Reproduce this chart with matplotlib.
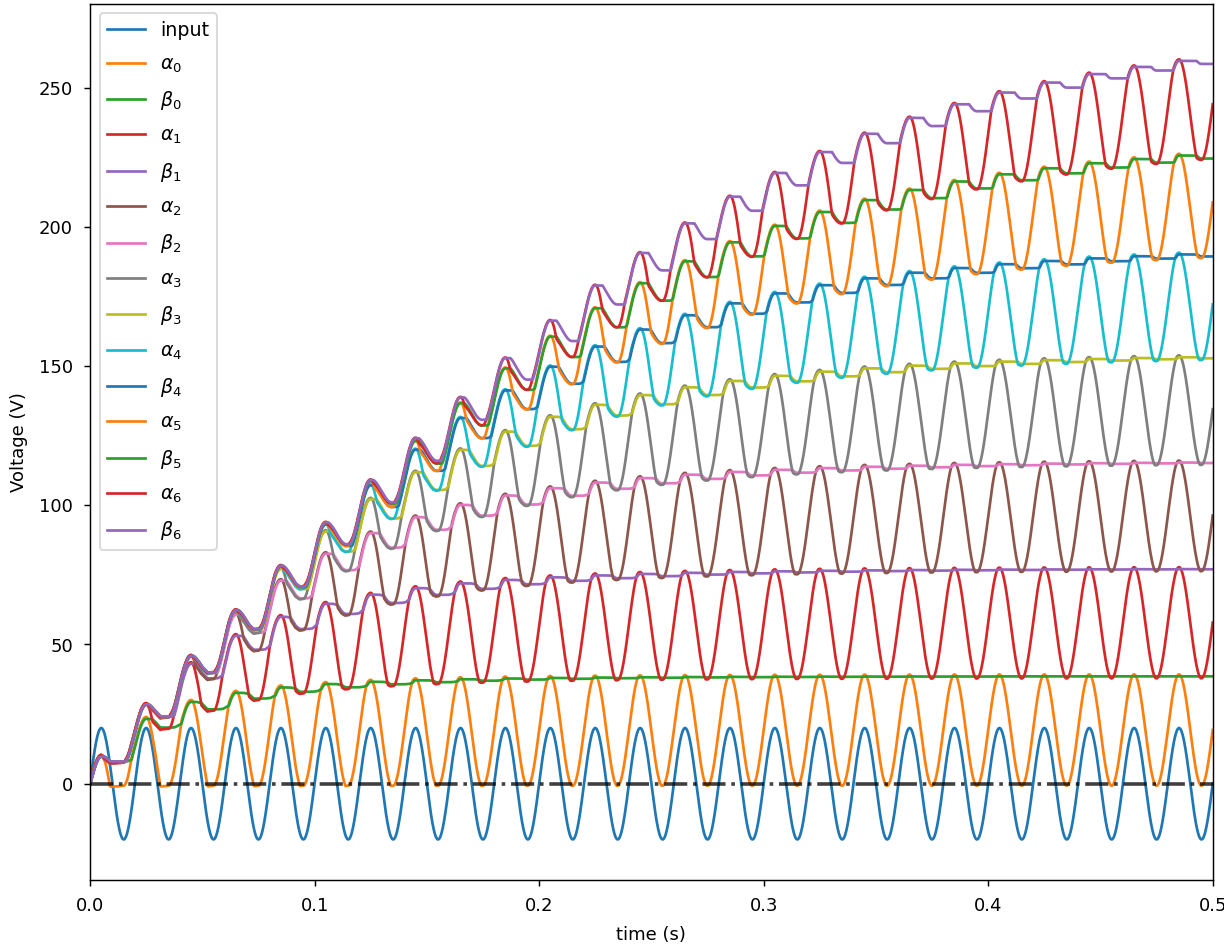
import numpy as np
import matplotlib.pyplot as plt

# source / ladder parameters (7-stage Cockcroft-Walton multiplier)
amplitude = 20.0        # V, peak input
frequency = 50.0        # Hz
t_end = 0.5             # s
dt = 2e-5               # s
cap_alpha = [10e-6, 2e-6, 4e-7, 8e-8, 1.6e-8, 3.2e-9, 6.4e-10]       # F, AC column
cap_beta = [10e-6, 1.4e-6, 2.8e-7, 5.6e-8, 1.12e-8, 2.24e-9, 4.48e-10]  # F, DC column
diode_res = [5, 25, 125, 625, 3125, 15625, 78125]                      # ohm, per stage
diode_drop = 0.7        # V

labels = ['input',
          r'$\alpha_0$', r'$\beta_0$', r'$\alpha_1$', r'$\beta_1$',
          r'$\alpha_2$', r'$\beta_2$', r'$\alpha_3$', r'$\beta_3$',
          r'$\alpha_4$', r'$\beta_4$', r'$\alpha_5$', r'$\beta_5$',
          r'$\alpha_6$', r'$\beta_6$']

# ---- transient simulation (backward euler, piecewise linear diodes) ----
n_st = len(cap_alpha)
N = 2 * n_st
GND, VIN = N, N + 1
Cm = np.zeros((N, N))
bsrc = np.zeros(N)


def stamp_cap(p, q, c):
    for a, b in ((p, q), (q, p)):
        if a < N:
            Cm[a, a] += c
            if b < N:
                Cm[a, b] -= c
            elif b == VIN:
                bsrc[a] += c


for k in range(n_st):
    stamp_cap(VIN if k == 0 else 2 * (k - 1), 2 * k, cap_alpha[k])
    stamp_cap(GND if k == 0 else 2 * k - 1, 2 * k + 1, cap_beta[k])

diodes = []
gs = []
for k in range(n_st):
    diodes.append((GND if k == 0 else 2 * k - 1, 2 * k))
    diodes.append((2 * k, 2 * k + 1))
    gs += [1.0 / diode_res[k], 1.0 / diode_res[k]]
anode = np.array([d[0] for d in diodes])
cathode = np.array([d[1] for d in diodes])

t = np.arange(0, t_end + dt / 2, dt)
vin = amplitude * np.sin(2 * np.pi * frequency * t)
Cdt = Cm / dt
cache = {}


def system(active):
    key = active.tobytes()
    if key not in cache:
        A = Cdt.copy()
        r = np.zeros(N)
        for (an, ca), on, g in zip(diodes, active, gs):
            if not on:
                continue
            for p, q, s in ((an, ca, 1.0), (ca, an, -1.0)):
                if p < N:
                    A[p, p] += g
                    if q < N:
                        A[p, q] -= g
                    r[p] += s * g * diode_drop
        cache[key] = (np.linalg.inv(A), r)
    return cache[key]


x = np.zeros(N)
out = np.zeros((len(t), N))
active = np.zeros(len(diodes), bool)
for i in range(1, len(t)):
    base = Cdt @ x + bsrc * (vin[i] - vin[i - 1]) / dt
    for it in range(30):
        Ainv, r = system(active)
        xn = Ainv @ (base + r)
        xe = np.append(xn, 0.0)
        vd = xe[anode] - xe[cathode]
        new = np.where(active, vd > diode_drop - 1e-9, vd > diode_drop)
        if np.array_equal(new, active):
            break
        active = new
    x = xn
    out[i] = x

# ---- plot ----
fig, ax = plt.subplots(figsize=(9.423, 7.262), dpi=130)
fig.subplots_adjust(left=0.0735, right=0.990, top=0.9957, bottom=0.068)

ax.plot(t, vin, label=labels[0])
for j in range(N):
    ax.plot(t, out[:, j], label=labels[j + 1])
ax.axhline(0, color='k', ls='-.', lw=2, alpha=0.75)

ax.set_xlim(0, t_end)
ax.set_ylim(-34.5, 280)
ax.tick_params(pad=6)
ax.set_xlabel('time (s)', labelpad=6)
ax.set_ylabel('Voltage (V)', labelpad=6)
ax.legend(loc='upper left', labelspacing=0.75, fontsize=10.5)

fig.savefig('out.png', dpi=130)
